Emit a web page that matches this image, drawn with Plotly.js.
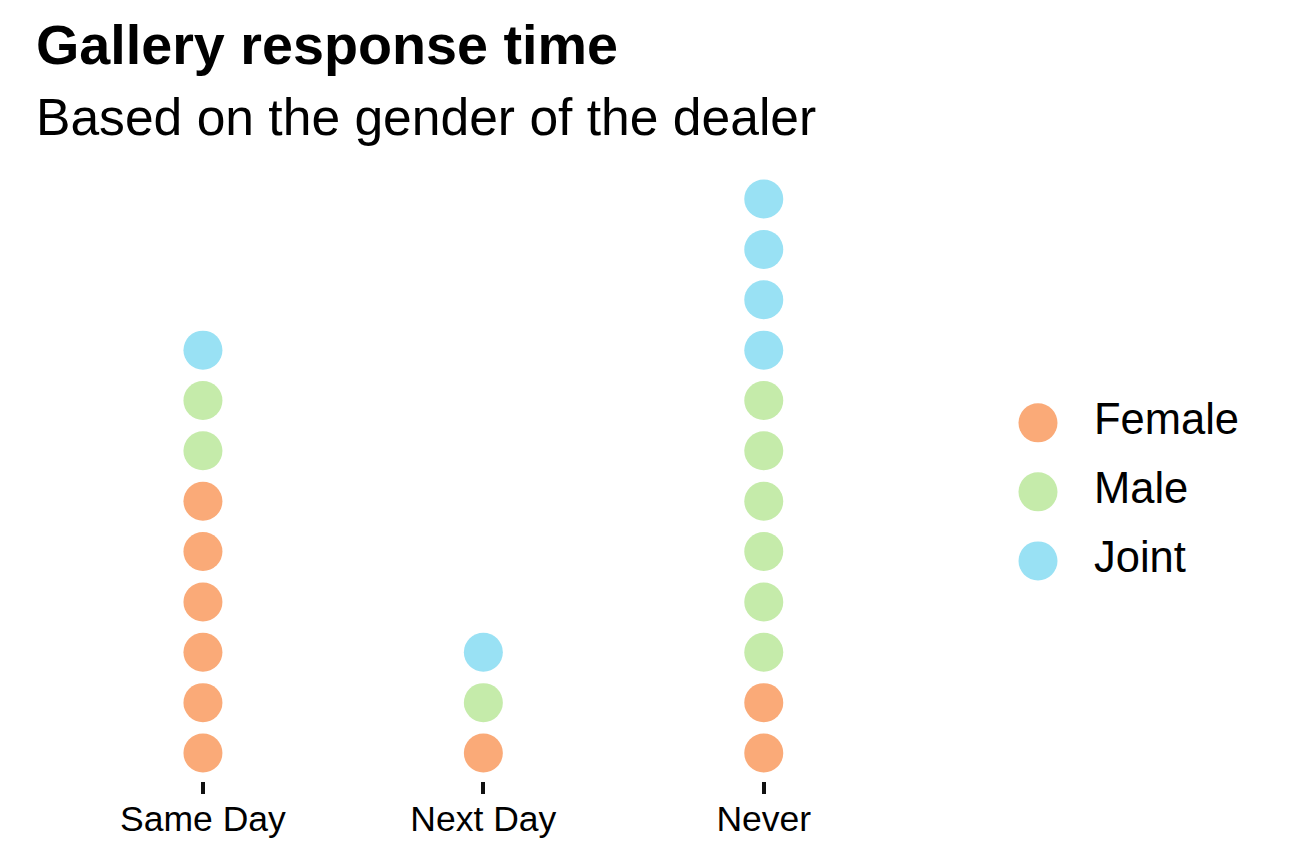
<!DOCTYPE html>
<html>
<head>
<meta charset="utf-8">
<script src="https://cdn.plot.ly/plotly-3.0.1.min.js"></script>
<style>html,body{margin:0;padding:0;background:#fff;}#chart{width:1290px;height:860px;}</style>
</head>
<body>
<div id="chart"></div>
<script>
// ---- data ----
const categories = ['Same Day', 'Next Day', 'Never'];
const groups = ['Female', 'Male', 'Joint'];
const female = [6, 1, 2];
const male = [2, 1, 6];
const joint = [1, 1, 4];
const groupColors = ['#FAAA78', '#C5EBAA', '#99E1F4'];
const titleText = 'Gallery response time';
const subtitleText = 'Based on the gender of the dealer';

const counts = [female, male, joint];
const FONT = 'Liberation Sans, Arial, Helvetica, sans-serif';

// build stacked dots
const traces = [];
groups.forEach((g, gi) => {
  const xs = [], ys = [];
  categories.forEach((c, ci) => {
    let offset = 0;
    for (let j = 0; j < gi; j++) offset += counts[j][ci];
    for (let k = 1; k <= counts[gi][ci]; k++) { xs.push(c); ys.push(offset + k); }
  });
  traces.push({
    type: 'scatter', mode: 'markers', x: xs, y: ys, name: g,
    marker: {size: 39, color: groupColors[gi], line: {width: 0}},
    showlegend: false, hoverinfo: 'x+y+name'
  });
});

// custom legend (large keys) on its own axes (x2 in pixel-like units)
const legY = groups.map((g, i) => groups.length - 1 - i);
traces.push({
  type: 'scatter', mode: 'markers', x: groups.map(() => 0), y: legY,
  marker: {size: 39, color: groupColors, line: {width: 0}},
  xaxis: 'x2', yaxis: 'y2', showlegend: false, hoverinfo: 'skip'
});
traces.push({
  type: 'scatter', mode: 'text', x: groups.map(() => 56), y: legY, text: groups,
  textposition: 'middle right', textfont: {family: FONT, size: 43.5, color: '#000'},
  xaxis: 'x2', yaxis: 'y2', showlegend: false, hoverinfo: 'skip'
});

const layout = {
  width: 1290, height: 860,
  margin: {l: 0, r: 0, t: 0, b: 0},
  paper_bgcolor: '#fff', plot_bgcolor: '#fff',
  font: {family: FONT, color: '#000'},
  showlegend: false,
  xaxis: {
    type: 'category', categoryorder: 'array', categoryarray: categories,
    domain: [34.7/1290, 932/1290], range: [-0.6, 2.6],
    showgrid: false, zeroline: false, showline: false,
    ticks: 'outside', ticklen: 12, tickwidth: 4, tickcolor: '#111',
    ticklabelstandoff: -6,
    tickfont: {family: FONT, size: 35.5, color: '#000'}, fixedrange: true
  },
  yaxis: {
    domain: [79/860, 689/860], range: [0.444, 12.557],
    showgrid: false, zeroline: false, showline: false, showticklabels: false, ticks: '', fixedrange: true
  },
  xaxis2: {domain: [990/1290, 1], range: [-48, 252], visible: false, fixedrange: true},
  yaxis2: {anchor: 'x2', domain: [79/860, 689/860], range: [-3.19, 5.65], visible: false, fixedrange: true},
  annotations: [
    {text: '<b>' + titleText + '</b>', xref: 'paper', yref: 'paper', x: 34/1290, y: 1 - 12/860,
     xanchor: 'left', yanchor: 'top', showarrow: false, font: {family: FONT, size: 55.7, color: '#000'}},
    {text: subtitleText, xref: 'paper', yref: 'paper', x: 34/1290, y: 1 - 86/860,
     xanchor: 'left', yanchor: 'top', showarrow: false, font: {family: FONT, size: 51.6, color: '#000'}}
  ]
};

Plotly.newPlot('chart', traces, layout, {displayModeBar: false, staticPlot: true});
</script>
</body>
</html>
